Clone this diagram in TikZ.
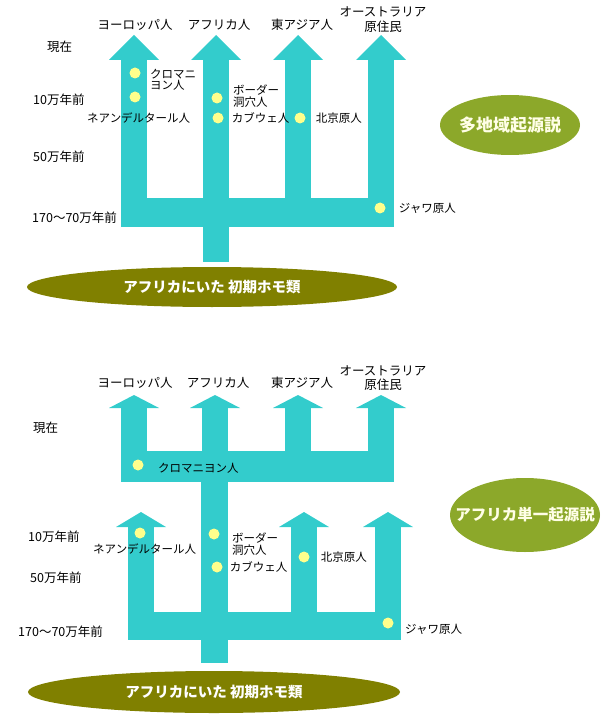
\documentclass[tikz,border=0pt]{standalone}
\usepackage{fontspec}
\setmainfont{Noto Sans CJK JP}
\usepackage{xcolor}
\usetikzlibrary{shapes.geometric, positioning}
\definecolor{trunkcol}{HTML}{33CCCC}
\definecolor{dotcol}{HTML}{FFFF8C}
\definecolor{olivecol}{HTML}{808000}
\definecolor{leafcol}{HTML}{8CA82A}

\begin{document}
\begin{tikzpicture}[
    x=1pt, y=-1pt,
    trunk/.style={fill=trunkcol},
    fossil/.style={circle, fill=dotcol, minimum size=11pt, inner sep=0pt},
    fname/.style={anchor=west, font=\fontsize{11.5}{11}\selectfont, align=left, inner sep=0pt},
    era/.style={anchor=west, font=\fontsize{12.5}{13}\selectfont, inner sep=0pt},
    group/.style={font=\fontsize{12.5}{15}\selectfont, align=center, inner sep=0pt},
    origin/.style={ellipse, fill=olivecol, text=white, inner sep=0pt, font=\fontsize{14.5}{15}\selectfont\bfseries},
    theory/.style={ellipse, fill=leafcol, text=white!90!yellow, inner ysep=0pt, inner xsep=-25pt},
]
\useasboundingbox (0,0) rectangle (615,719);

% multiregional
\foreach \x in {134,216,298,381} {
  \fill[trunk] (\x-13,59) rectangle (\x+13,210);
  \fill[trunk] (\x-25,60) -- (\x,35) -- (\x+25,60) -- cycle;
}
\fill[trunk] (121,198) rectangle (394,227);
\fill[trunk] (203,220) rectangle (229,262);

\node[group] (eur1) at (135,25) {ヨーロッパ人};
\node[group] (afr1) at (219,25) {アフリカ人};
\node[group] (eas1) at (302,25) {東アジア人};
\node[group] (aus1) at (383,20) {オーストラリア\\原住民};

\node[era] (now1) at (47,47) {現在};
\node[era] (k10a) at (33,100) {10万年前};
\node[era] (k50a) at (33,157) {50万年前};
\node[era] (k170a) at (32,218) {170～70万年前};

\node[fossil] (cro1) at (135,73) {};
\node[fossil] (nea1) at (135,97) {};
\node[fossil] (bor1) at (217,98) {};
\node[fossil] (kab1) at (218,118) {};
\node[fossil] (pek1) at (300,118) {};
\node[fossil] (jav1) at (380,208) {};
\node[fname] (cro1t) at (150,80) {クロマニ\\ヨン人};
\node[fname] (nea1t) at (87,118) {ネアンデルタール人};
\node[fname, font=\fontsize{11.5}{12}\selectfont] (bor1t) at (233,96) {ボーダー\\洞穴人};
\node[fname, right=8pt of kab1] (kab1t) {カブウェ人};
\node[fname, right=10pt of pek1] (pek1t) {北京原人};
\node[fname, right=13pt of jav1] (jav1t) {ジャワ原人};

\node[origin, minimum width=370pt, minimum height=40pt] (early1) at (212,287) {アフリカにいた 初期ホモ類};
\node[theory, minimum width=140pt, minimum height=60pt, font=\fontsize{17}{17}\selectfont\bfseries] (multi) at (510,125) {多地域起源説};

% single origin
\foreach \x in {134,215,298,381} {
  \fill[trunk] (\x-13,406) rectangle (\x+13,460);
  \fill[trunk] (\x-25,408) -- (\x,395) -- (\x+25,408) -- cycle;
}
\fill[trunk] (121,451) rectangle (394,482);
\fill[trunk] (201,475) rectangle (228,663);
\foreach \x in {141,304,388} {
  \fill[trunk] (\x-13,526) rectangle (\x+13,620);
  \fill[trunk] (\x-25,527) -- (\x,512) -- (\x+25,527) -- cycle;
}
\fill[trunk] (128,612) rectangle (401,640);

\node[group] (eur2) at (135,383) {ヨーロッパ人};
\node[group] (afr2) at (218,383) {アフリカ人};
\node[group] (eas2) at (302,383) {東アジア人};
\node[group, font=\fontsize{12.5}{14}\selectfont] (aus2) at (383,378) {オーストラリア\\原住民};

\node[era] (now2) at (33,428) {現在};
\node[era] (k10b) at (28,537) {10万年前};
\node[era] (k50b) at (30,578) {50万年前};
\node[era] (k170b) at (18,632) {170～70万年前};

\node[fossil] (cro2) at (138,465) {};
\node[fossil] (nea2) at (140,533) {};
\node[fossil] (bor2) at (214,534) {};
\node[fossil] (kab2) at (217,567) {};
\node[fossil] (pek2) at (304,557) {};
\node[fossil] (jav2) at (388,623) {};
\node[fname] (cro2t) at (158,468) {クロマニヨン人};
\node[fname] (nea2t) at (93,549) {ネアンデルタール人};
\node[fname, font=\fontsize{11.5}{12}\selectfont] (bor2t) at (232,544) {ボーダー\\洞穴人};
\node[fname, right=7pt of kab2] (kab2t) {カブウェ人};
\node[fname, right=11pt of pek2] (pek2t) {北京原人};
\node[fname] (jav2t) at (405,629) {ジャワ原人};

\node[origin, minimum width=372pt, minimum height=42pt] (early2) at (214,692) {アフリカにいた 初期ホモ類};
\node[theory, minimum width=150pt, minimum height=74pt, font=\fontsize{15.5}{16}\selectfont\bfseries] (single) at (525,515) {アフリカ単一起源説};
\end{tikzpicture}
\end{document}
